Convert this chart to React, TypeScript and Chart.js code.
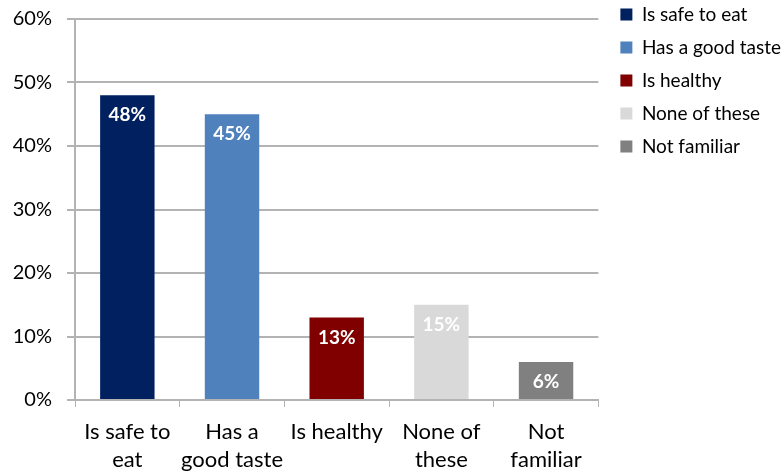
import React, { useEffect, useRef } from "react";
import { Chart, registerables } from "chart.js";

Chart.register(...registerables);

const categories: string[][] = [
  ["Is safe to", "eat"],
  ["Has a", "good taste"],
  ["Is healthy"],
  ["None of", "these"],
  ["Not", "familiar"],
];
const legendLabels: string[] = [
  "Is safe to eat",
  "Has a good taste",
  "Is healthy",
  "None of these",
  "Not familiar",
];
const values: number[] = [48, 45, 13, 15, 6];
const colors: string[] = ["#002060", "#4f81bd", "#800000", "#d9d9d9", "#808080"];
const yTicks: number[] = [0, 10, 20, 30, 40, 50, 60];

const FONT = "Lato, 'Open Sans', sans-serif";
const GRID = "#b3b3b3";

const valueLabels = {
  id: "valueLabels",
  afterDatasetsDraw(chart: any) {
    const ctx = chart.ctx;
    const meta = chart.getDatasetMeta(0);
    ctx.save();
    ctx.font = `bold 19px ${FONT}`;
    ctx.fillStyle = "#ffffff";
    ctx.textAlign = "center";
    ctx.textBaseline = "middle";
    meta.data.forEach((bar: any, i: number) => {
      ctx.fillText(values[i] + "%", bar.x, bar.y + 20);
    });
    ctx.restore();
  },
};

const legendShift = {
  id: "legendShift",
  afterLayout(chart: any) {
    const lg = chart.legend;
    if (lg) {
      const h = lg.bottom - lg.top;
      const w = lg.right - lg.left;
      lg.top = -9;
      lg.bottom = -9 + h;
      lg.left = lg.left + 8;
      lg.right = lg.left + w;
    }
  },
};

export default function App() {
  const ref = useRef<HTMLCanvasElement>(null);
  useEffect(() => {
    if (!ref.current) return;
    const chart = new Chart(ref.current, {
      type: "bar",
      data: {
        labels: categories,
        datasets: [
          {
            data: values,
            backgroundColor: colors,
            barPercentage: 0.52,
            categoryPercentage: 1,
          },
        ],
      },
      options: {
        animation: false,
        responsive: false,
        layout: { padding: { top: 0, left: 0, right: 0, bottom: 0 } },
        plugins: {
          tooltip: { enabled: false },
          legend: {
            position: "right",
            align: "start",
            labels: {
              color: "#404040",
              font: { family: FONT, size: 19 },
              boxWidth: 12,
              boxHeight: 12,
              padding: 14,
              generateLabels: () =>
                legendLabels.map((t, i) => ({
                  text: t,
                  fillStyle: colors[i],
                  strokeStyle: colors[i],
                  lineWidth: 0,
                  hidden: false,
                  index: i,
                  datasetIndex: 0,
                })),
            },
          },
        },
        scales: {
          x: {
            grid: {
              drawOnChartArea: false,
              drawTicks: true,
              tickLength: 7,
              color: GRID,
              offset: true,
            },
            border: { display: true, color: GRID, width: 2 },
            ticks: {
              color: "#000000",
              font: { family: FONT, size: 22, lineHeight: "28px" },
              padding: 11,
              maxRotation: 0,
              autoSkip: false,
            },
            afterFit: (s: any) => {
              s.height = 73;
            },
          },
          y: {
            min: 0,
            max: 60,
            afterBuildTicks: (s: any) => {
              s.ticks = yTicks.map((v) => ({ value: v }));
            },
            grid: { color: GRID, lineWidth: 2, tickLength: 8 },
            border: { display: true, color: GRID, width: 2 },
            ticks: {
              color: "#000000",
              font: { family: FONT, size: 20, lineHeight: "8px" },
              padding: 15,
              callback: (v: any) => v + "%",
            },
            afterFit: (s: any) => {
              s.width = 75;
            },
          },
        },
      },
      plugins: [valueLabels, legendShift],
    });
    return () => chart.destroy();
  }, []);
  return (
    <div style={{ position: "fixed", left: 0, top: 0, width: 783, height: 473, background: "#fff" }}>
      <canvas ref={ref} width={783} height={473} />
    </div>
  );
}
